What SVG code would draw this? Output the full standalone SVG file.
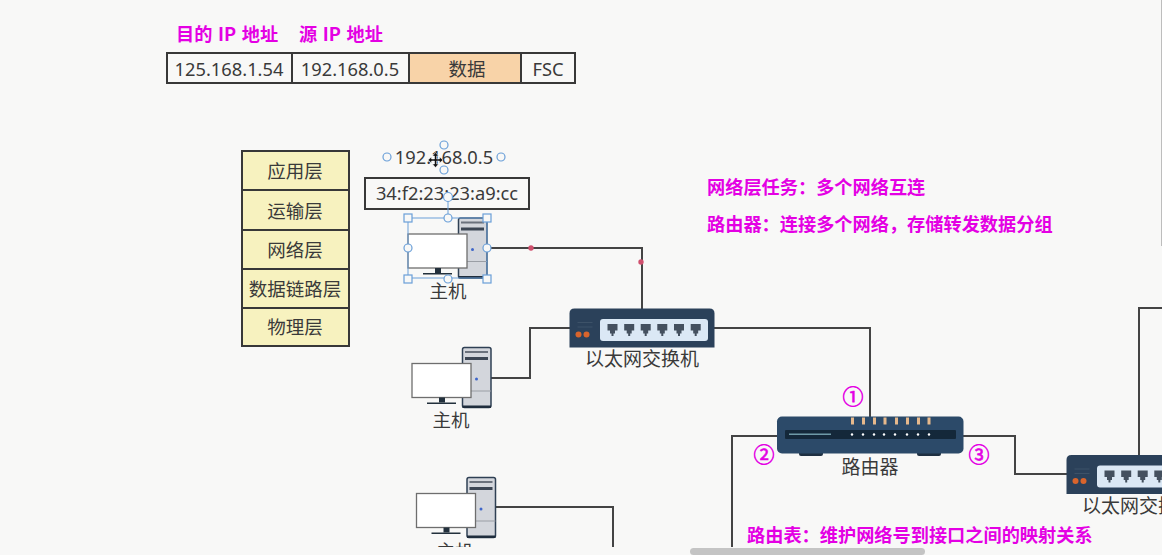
<svg xmlns="http://www.w3.org/2000/svg" width="1162" height="555" viewBox="0 0 1162 555">
<style>
text{font-family:"Noto Sans","Noto Sans CJK SC",sans-serif;fill:#3a3a3a;text-anchor:middle;font-size:18.500px}
.n{font-size:18.300px}
.m{fill:#e400e4;font-weight:700;font-size:18.200px;text-anchor:start;font-family:"Noto Sans CJK SC",sans-serif;word-spacing:1.500px}
.c{fill:#e400e4;stroke:#e400e4;stroke-width:.6;font-size:21px;font-family:"Noto Sans CJK SC",sans-serif}
.b{fill:#f8f8f7;stroke:#383838;stroke-width:2}
.y{fill:#f7f2bf;stroke:#383838;stroke-width:2}
.l{fill:none;stroke:#444;stroke-width:2}
.h{fill:#f8f8f7;stroke:#6a9fd8;stroke-width:1.200}
</style>
<defs>
<g id="pc">
<rect x="50.500" y="0" width="28.500" height="60" rx="2" fill="#d3d6dc" stroke="#2f4054" stroke-width="1.500"/>
<rect x="53" y="3.500" width="23" height="2" fill="#6a717c"/>
<rect x="53" y="9.500" width="23" height="3" fill="#3c4654"/>
<path d="M50.500 43.500H79" stroke="#9a9ea5"/>
<rect x="50.500" y="58" width="28.500" height="2.500" fill="#1f2d3d"/>
<circle cx="64.500" cy="31.500" r="1.500" fill="#3f66c9"/>
<rect x="0" y="16" width="59" height="34" fill="#fff" stroke="#6e6e6e" stroke-width="1.300"/>
<rect x="27" y="50" width="6" height="5" fill="#22303c"/>
<rect x="15" y="55" width="29" height="1.500" fill="#22303c"/>
</g>
<path id="port" d="M0 0h10v6.500h-2.500v3h-1.500v2.500h-2v-2.500h-1.500v-3h-2.500z" fill="#44505f"/>
<g id="sw">
<path d="M0 39V5Q0 0 5 0H140Q145 0 145 5V39Z" fill="#2b415a"/>
<path d="M8 14H23M8 18.500H23" stroke="#3d5268" stroke-width="1"/>
<rect x="30.500" y="10.500" width="108" height="22" rx="3" fill="#dbe8f5"/>
<circle cx="9" cy="26" r="3" fill="#d9642c"/>
<circle cx="17" cy="26" r="3" fill="#d9642c"/>
<use href="#port" x="38" y="15.500"/>
<use href="#port" x="54.700" y="15.500"/>
<use href="#port" x="71.200" y="15.500"/>
<use href="#port" x="87.800" y="15.500"/>
<use href="#port" x="104.500" y="15.500"/>
<use href="#port" x="121.200" y="15.500"/>
</g>
</defs>
<rect width="1162" height="555" fill="#f8f8f7"/>
<g id="connectors">
<path class="l" d="M487 248H642V309"/>
<path class="l" d="M491 378H530V328H570"/>
<path class="l" d="M714 328H870V417"/>
<path class="l" d="M778 436H732V547"/>
<path class="l" d="M963 436H1015V474H1067"/>
<path class="l" d="M1139 455V308H1162"/>
<path class="l" d="M496 507H613V547"/>
<circle cx="531" cy="248" r="2.700" fill="#d0506e"/>
<circle cx="641" cy="262" r="2.700" fill="#d0506e"/>
</g>
<g id="frame">
<rect class="b" x="167" y="53" width="125" height="30"/>
<rect class="b" x="292" y="53" width="117" height="30"/>
<rect x="409" y="53" width="112" height="30" fill="#f8d3a8" stroke="#383838" stroke-width="2"/>
<rect class="b" x="521" y="53" width="54" height="30"/>
<text class="n" x="229" y="75.500">125.168.1.54</text>
<text class="n" x="350" y="75.500">192.168.0.5</text>
<text x="467" y="76">数据</text>
<text class="n" x="548" y="75.500">FSC</text>
<text class="m" x="176" y="41">目的 IP 地址</text>
<text class="m" x="299" y="41">源 IP 地址</text>
</g>
<g id="layers">
<rect class="y" x="242" y="151" width="107" height="39"/>
<rect class="y" x="242" y="190" width="107" height="40"/>
<rect class="y" x="242" y="230" width="107" height="39"/>
<rect class="y" x="242" y="269" width="107" height="39"/>
<rect class="y" x="242" y="308" width="107" height="38"/>
<text x="295" y="178">应用层</text>
<text x="295" y="218">运输层</text>
<text x="295" y="257">网络层</text>
<text x="295" y="296">数据链路层</text>
<text x="295" y="334">物理层</text>
</g>
<g id="host1">
<use href="#pc" x="408" y="218"/>
<text x="448" y="297.500">主机</text>
</g>
<g id="ip-label">
<text class="n" x="444" y="164">192.168.0.5</text>
<rect class="b" x="365" y="178" width="164" height="31"/>
<text class="n" x="447" y="200">34:f2:23:23:a9:cc</text>
</g>
<g id="selection" fill="none">
<path d="M448 197V218M408 218H487V278H408Z" stroke="#6a9fd8" stroke-width="1"/>
<circle class="h" cx="387" cy="157" r="4"/><circle class="h" cx="501" cy="157" r="4"/>
<circle class="h" cx="444" cy="145" r="4"/><circle class="h" cx="444" cy="170" r="4"/>
<circle class="h" cx="448" cy="197" r="4.500"/><circle class="h" cx="448" cy="218" r="4"/>
<circle class="h" cx="408" cy="248" r="4"/><circle class="h" cx="487" cy="248" r="4"/>
<circle class="h" cx="448" cy="279" r="4"/>
<rect class="h" x="404" y="214" width="8" height="8"/><rect class="h" x="483" y="214" width="8" height="8"/>
<rect class="h" x="404" y="275" width="8" height="8"/><rect class="h" x="483" y="275" width="8" height="8"/>
<path d="M435.500 152.500l3 3.500h-2v3h3v-2l3.500 3-3.500 3v-2h-3v3h2l-3 3.500-3-3.500h2v-3h-3v2l-3.500-3 3.500-3v2h3v-3h-2z" fill="#111" stroke="#fff" stroke-width=".5"/>
</g>
<g id="host2">
<use href="#pc" x="412" y="347.500"/>
<text x="451" y="427">主机</text>
</g>
<g id="host3">
<use href="#pc" x="416.500" y="477.500"/>
<svg x="400" y="530" width="100" height="17"><text x="55" y="27.500">主机</text></svg>
</g>
<g id="switch1">
<use href="#sw" x="569.500" y="308.500"/>
<text x="642" y="366" style="font-size:19px">以太网交换机</text>
</g>
<g id="router">
<rect x="799" y="450" width="24" height="6" rx="2" fill="#1f3042"/>
<rect x="917" y="450" width="24" height="6" rx="2" fill="#1f3042"/>
<rect x="777" y="416.500" width="186.500" height="37" rx="5" fill="#2c4a69"/>
<rect x="785" y="430" width="171" height="9" rx="1" fill="#14283a"/>
<rect x="789" y="433.500" width="42" height="1.500" fill="#6f9aa8"/>
<g fill="#e7b98c">
<rect x="851" y="417.500" width="3" height="7"/><rect x="862" y="417.500" width="3" height="7"/><rect x="873" y="417.500" width="3" height="7"/><rect x="883.500" y="417.500" width="3" height="7"/><rect x="895" y="417.500" width="3" height="7"/><rect x="906" y="417.500" width="3" height="7"/><rect x="917" y="417.500" width="3" height="7"/><rect x="927.500" y="417.500" width="3" height="7"/>
</g>
<g fill="#fff">
<circle cx="852" cy="434.500" r="1.200"/><circle cx="863" cy="434.500" r="1.200"/><circle cx="874" cy="434.500" r="1.200"/><circle cx="884" cy="434.500" r="1.200"/><circle cx="895" cy="434.500" r="1.200"/><circle cx="907" cy="434.500" r="1.200"/><circle cx="918" cy="434.500" r="1.200"/><circle cx="929" cy="434.500" r="1.200"/>
</g>
<text x="870" y="474" style="font-size:19px">路由器</text>
<text class="c" x="853" y="404">①</text>
<text class="c" x="764" y="462">②</text>
<text class="c" x="979" y="462">③</text>
</g>
<g id="switch2">
<use href="#sw" x="1066.500" y="455"/>
<text x="1082" y="513" style="text-anchor:start;font-size:19px">以太网交换机</text>
</g>
<g id="notes">
<text class="m" x="707" y="194">网络层任务：多个网络互连</text>
<text class="m" x="707" y="231">路由器：连接多个网络，存储转发数据分组</text>
<text class="m" x="747" y="542">路由表：维护网络号到接口之间的映射关系</text>
</g>
<rect id="scrollbar-h" x="690" y="548" width="235" height="7" rx="3.500" fill="#c4c4c4"/>
<rect id="scrollbar-v" x="1161" y="0" width="1" height="246" fill="#bdbdbd"/>
</svg>
